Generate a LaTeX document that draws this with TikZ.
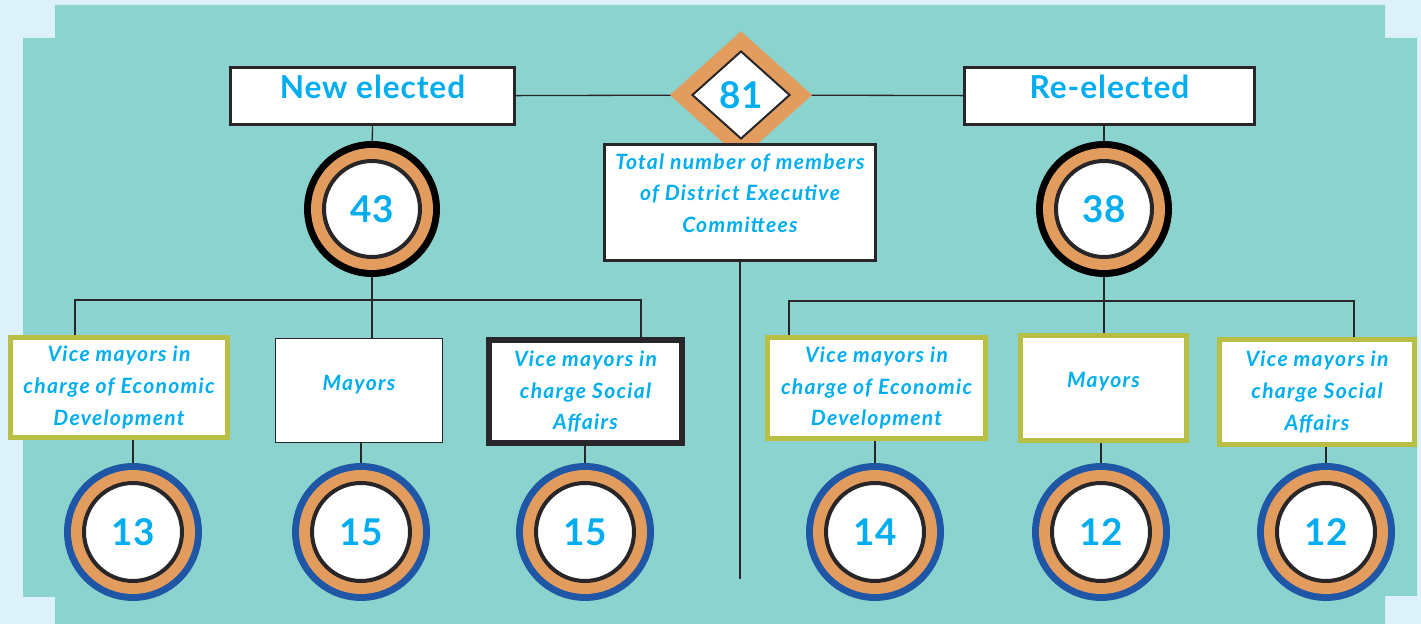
\documentclass[tikz,border=0pt]{standalone}
\usepackage{fontspec}
\setmainfont{Lato}
\newfontfamily\lblfont{Lato}[LetterSpace=6]
\newfontfamily\headfont{Lato}[LetterSpace=3]
\usetikzlibrary{shapes.geometric}
\definecolor{skyback}{RGB}{221,241,251}
\definecolor{tealback}{RGB}{139,211,206}
\definecolor{ocre}{RGB}{225,156,94}
\definecolor{ringblue}{RGB}{31,86,166}
\definecolor{limeframe}{RGB}{185,191,69}
\definecolor{textblue}{RGB}{0,174,239}
\definecolor{darkline}{RGB}{40,38,40}
\pgfdeclarelayer{back}
\pgfdeclarelayer{bg}
\pgfsetlayers{back,bg,main}

\begin{document}
\begin{tikzpicture}[x=0.02cm,y=-0.02cm,
  conn/.style={draw=darkline, line width=0.75pt},
  lbl/.style={font=\lblfont\fontsize{12}{18}\selectfont\bfseries\itshape, text=textblue, align=center},
  headbox/.style={rectangle, draw=darkline, line width=1.6pt, fill=white, inner sep=0pt,
    text height=0.63cm, text depth=0.51cm, font=\headfont\fontsize{18}{20}\selectfont\bfseries, text=textblue},
  numdisc/.style={circle, fill=white, draw=darkline, line width=0.08cm, inner sep=0pt,
    font=\fontsize{21}{24}\selectfont\bfseries, text=textblue},
  topdisc/.style={numdisc, minimum size=1.92cm,
    preaction={draw=black, line width=0.8cm}, preaction={draw=ocre, line width=0.52cm}},
  lowdisc/.style={numdisc, minimum size=1.96cm,
    preaction={draw=ringblue, line width=0.8cm}, preaction={draw=ocre, line width=0.52cm}},
  limebox/.style={rectangle, draw=limeframe, line width=0.1cm, fill=white, inner sep=0pt, lbl},
  plainbox/.style={rectangle, draw=darkline, line width=0.75pt, fill=white, inner sep=0pt, lbl},
  boldbox/.style={rectangle, draw=darkline, line width=0.11cm, fill=white, inner sep=0pt, lbl}]

\node[headbox, minimum width=5.68cm] (newel) at (372.5,96) {New elected};
\node[headbox, minimum width=5.8cm] (reel) at (1109.5,96) {Re-elected};

\node[diamond, fill=white, draw=darkline, line width=0.04cm, inner sep=0pt,
  minimum width=1.96cm, minimum height=1.76cm, preaction={draw=ocre, line width=0.6cm},
  font=\fontsize{21}{24}\selectfont\bfseries, text=textblue] (d81) at (741,95) {81};
\node[rectangle, draw=darkline, line width=1.6pt, fill=white, minimum width=5.42cm,
  minimum height=2.32cm] (tot) at (740,202.5) {};
\node[lbl] (tottxt) at (740,193) {Total number of members\\of District Executive\\Committees};

\node[topdisc] (c43) at (372,209) {43};
\node[topdisc] (c38) at (1104,209) {38};

\node[limebox, minimum width=4.34cm, minimum height=2cm] (ecoL) at (119,387.5)
  {Vice mayors in\\charge of Economic\\Development};
\node[plainbox, minimum width=3.34cm, text height=1.04cm, text depth=1.04cm] (mayL) at (359,390.5) {Mayors};
\node[boldbox, minimum width=3.87cm, minimum height=2.07cm] (socL) at (585.5,391.5)
  {Vice mayors in\\charge Social\\Affairs};
\node[limebox, minimum width=4.36cm, minimum height=2.02cm] (ecoR) at (876.5,388)
  {Vice mayors in\\charge of Economic\\Development};
\node[limebox, minimum width=3.32cm, text height=1.05cm, text depth=1.05cm] (mayR) at (1103.5,388) {Mayors};
\node[limebox, minimum width=3.9cm, minimum height=2.1cm] (socR) at (1317,392)
  {Vice mayors in\\charge Social\\Affairs};

\node[lowdisc] (c13) at (133,532) {13};
\node[lowdisc] (c15a) at (361,532) {15};
\node[lowdisc] (c15b) at (585,532) {15};
\node[lowdisc] (c14) at (875,532) {14};
\node[lowdisc] (c12a) at (1101,532) {12};
\node[lowdisc] (c12b) at (1326,532) {12};

\coordinate (brL) at (75,300);
\coordinate (brL2) at (641,300);
\coordinate (brR) at (789,301);
\coordinate (brR2) at (1354,301);
\coordinate (cend) at (740,579);

\begin{pgfonlayer}{back}
\fill[skyback] (0,0) rectangle (1421,624);
\fill[tealback] (55,5) -- (1385,5) -- (1385,38) -- (1417,38) -- (1417,596) -- (1385,596)
  -- (1385,624) -- (55,624) -- (55,597) -- (23,597) -- (23,38) -- (55,38) -- cycle;
\end{pgfonlayer}

\begin{pgfonlayer}{bg}
\draw[conn] (newel) -- (d81);
\draw[conn] (d81) -- (reel);
\draw[conn] (newel.south) -- (c43.north);
\draw[conn] (c38.north |- reel.south) -- (c38.north);
\draw[conn] (c43.south) -- (c43.south |- mayL.north);
\draw[conn] (brL |- ecoL.north) -- (brL) -- (brL2) -- (brL2 |- socL.north);
\draw[conn] (c38.south) -- (c38.south |- mayR.north);
\draw[conn] (brR |- ecoR.north) -- (brR) -- (brR2) -- (brR2 |- socR.north);
\draw[conn] (c13.north |- ecoL.south) -- (c13.north);
\draw[conn] (c15a.north |- mayL.south) -- (c15a.north);
\draw[conn] (c15b.north |- socL.south) -- (c15b.north);
\draw[conn] (c14.north |- ecoR.south) -- (c14.north);
\draw[conn] (c12a.north |- mayR.south) -- (c12a.north);
\draw[conn] (c12b.north |- socR.south) -- (c12b.north);
\draw[draw=darkline, line width=1.7pt] (tot.south) -- (cend);
\end{pgfonlayer}
\end{tikzpicture}
\end{document}
